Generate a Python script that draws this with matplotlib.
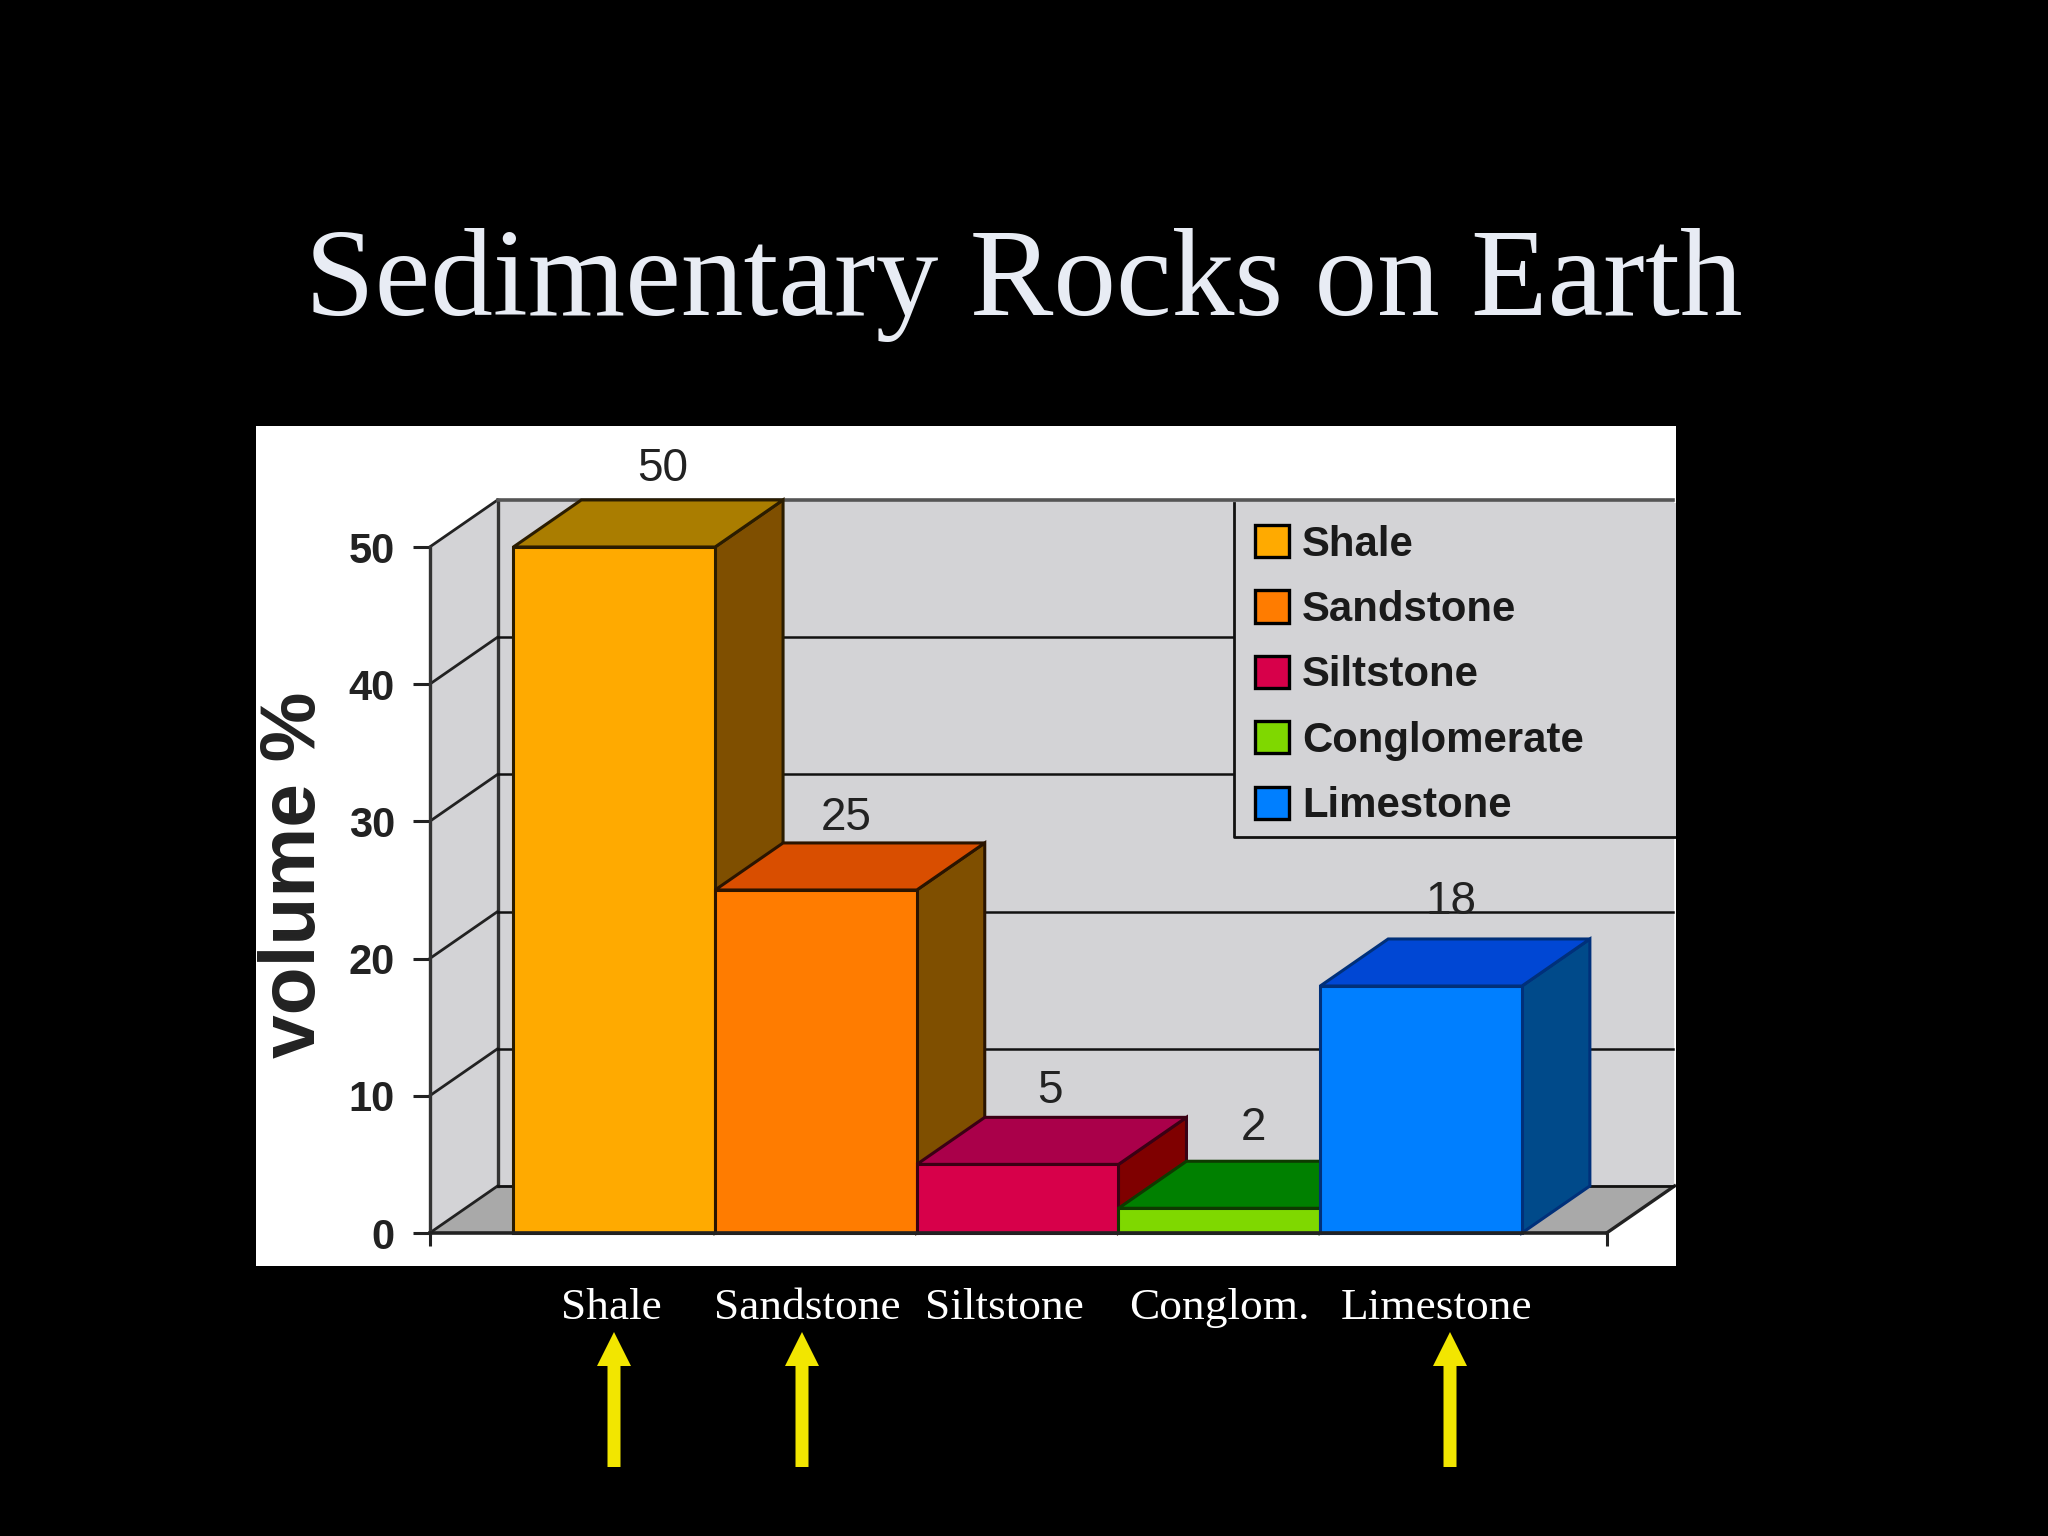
import matplotlib
matplotlib.use("Agg")
import matplotlib.pyplot as plt
from matplotlib.patches import Patch

rocks = ["Shale", "Sandstone", "Siltstone", "Conglomerate", "Limestone"]
volume = [50, 25, 5, 2, 18]
heights = [50, 25, 5, 1.8, 18]
y_ticks = [0, 10, 20, 30, 40, 50]

front_colors = ["#FFAA00", "#FF7C00", "#D7004A", "#7FD800", "#007FFF"]
top_colors = ["#AA7D00", "#D94E00", "#AA004A", "#008000", "#0047D4"]
side_colors = ["#7F4F00", "#7F4F00", "#7F0000", "#005500", "#004A8A"]
edge_colors = ["#2A1C00", "#2A1400", "#3A0014", "#0E3A00", "#00307A"]

short_names = ["Shale", "Sandstone", "Siltstone", "Conglom.", "Limestone"]
short_x = [611, 807, 1004, 1219, 1437]
arrow_x = [614, 802, 1450]

# depth of the fake 3d box, in data units
DX = 0.337
DY = 3.43
AXIS_X = -0.415
FLOOR_END = 5.42
RIGHT = 5.75

W, H = 2048, 1536
fig = plt.figure(figsize=(W / 100, H / 100), dpi=100, facecolor="black")

# slide layer, in pixels
slide = fig.add_axes([0, 0, 1, 1])
slide.set_xlim(0, W)
slide.set_ylim(H, 0)
slide.axis("off")
slide.text(1024, 285, "Sedimentary Rocks on Earth", family="Liberation Serif", fontsize=90.3,
           color="#E8ECF4", ha="center", va="center")
for name, x in zip(short_names, short_x):
    slide.text(x, 1319, name, family="Liberation Serif", fontsize=32.7, color="white",
               ha="center", va="baseline")
for x in arrow_x:
    slide.arrow(x, 1467, 0, -135, width=13, head_width=34, head_length=34,
                length_includes_head=True, color="#F2E600", linewidth=0)

# chart panel
ax = fig.add_axes([256 / W, (H - 1266) / H, 1420 / W, 840 / H], facecolor="white")
ax.set_xlim(-1.276, 5.764)
ax.set_ylim(-2.405, 58.82)

wall = "#D3D3D6"
ax.fill([AXIS_X + DX, RIGHT, RIGHT, AXIS_X + DX], [DY, DY, 50 + DY, 50 + DY], color=wall, zorder=1)
ax.fill([AXIS_X, AXIS_X + DX, AXIS_X + DX, AXIS_X], [0, DY, 50 + DY, 50], color=wall, zorder=1)
ax.fill([AXIS_X, FLOOR_END, FLOOR_END + DX, AXIS_X + DX], [0, 0, DY, DY], color="#A9A9A9", zorder=1)
ax.plot([FLOOR_END, FLOOR_END + DX], [0, DY], color="#222222", lw=2.4, zorder=1.2)
ax.plot([AXIS_X + DX, AXIS_X + DX], [DY, 50 + DY], color="#333333", lw=2.4, zorder=1.2)
ax.plot([AXIS_X + DX, RIGHT], [DY, DY], color="#333333", lw=1.8, zorder=1.2)

for v in y_ticks:
    ax.plot([AXIS_X, AXIS_X + DX], [v, v + DY], color="#222222", lw=2, zorder=1.3)
    c = "#555555" if v == 50 else "#111111"
    lw = 2.6 if v == 50 else 1.8
    ax.plot([AXIS_X + DX, RIGHT], [v + DY, v + DY], color=c, lw=lw, zorder=1.3)

for i, h in enumerate(heights):
    z = 3 + i * 0.1
    ec = edge_colors[i]
    ax.fill([i + 1, i + 1 + DX, i + 1 + DX, i + 1], [0, DY, h + DY, h], facecolor=side_colors[i],
            edgecolor=ec, lw=2.2, zorder=z)
    ax.fill([i, i + 1, i + 1 + DX, i + DX], [h, h, h + DY, h + DY], facecolor=top_colors[i],
            edgecolor=ec, lw=2.2, zorder=z)
    ax.fill([i, i + 1, i + 1, i], [0, 0, h, h], facecolor=front_colors[i],
            edgecolor=ec, lw=2.2, zorder=z)

label_dx = [0.74, 0.65, 0.66, 0.67, 0.65]
label_dy = [5.72, 5.22, 5.32, 5.62, 6.12]
for i, v in enumerate(volume):
    ax.text(i + label_dx[i], v + label_dy[i], str(v), family="Liberation Sans", fontsize=33,
            color="#222222", ha="center", va="center", zorder=6)

for s in ["top", "right"]:
    ax.spines[s].set_visible(False)
ax.spines["left"].set_position(("data", AXIS_X))
ax.spines["left"].set_bounds(0, 50)
ax.spines["left"].set_linewidth(2.4)
ax.spines["left"].set_color("#333333")
ax.spines["bottom"].set_position(("data", 0))
ax.spines["bottom"].set_bounds(AXIS_X, FLOOR_END)
ax.spines["bottom"].set_linewidth(2.6)
ax.spines["bottom"].set_color("#222222")
ax.spines["bottom"].set_zorder(5)

ax.set_yticks(y_ticks)
ax.set_yticklabels([str(v) for v in y_ticks], family="Liberation Sans", fontsize=30,
                   weight="bold", color="#222222")
ax.tick_params(axis="y", length=12, width=2.2, pad=13, color="#222222")
ax.set_xticks([AXIS_X, FLOOR_END])
ax.set_xticklabels(["", ""])
ax.tick_params(axis="x", length=9, width=2.2, color="#222222")

ax.text(-1.084, 26.1, "volume %", family="Liberation Sans", fontsize=56.5, weight="bold",
        color="#222222", rotation=90, ha="center", va="center")

# legend box only has a left and bottom line in the original
LEG_L, LEG_R, LEG_B, LEG_T = 0.689, 1.0, 0.5105, 0.908
ax.fill([LEG_L, LEG_R, LEG_R, LEG_L], [LEG_B, LEG_B, LEG_T, LEG_T], color=wall,
        transform=ax.transAxes, zorder=1.5, linewidth=0)
ax.plot([LEG_L, LEG_L, LEG_R], [LEG_T, LEG_B, LEG_B], color="#111111", lw=2,
        transform=ax.transAxes, zorder=1.6)

handles = [Patch(facecolor=c, edgecolor="black", linewidth=2.4) for c in front_colors]
leg = ax.legend(handles, rocks, loc="upper left", bbox_to_anchor=(LEG_L + 0.0028, LEG_T - 0.0054),
                frameon=False,
                prop={"family": "Liberation Sans", "size": 30.2, "weight": "bold"},
                handlelength=0.81, handleheight=0.81, handletextpad=0.31, labelspacing=0.606,
                borderpad=0.4, borderaxespad=0)
leg.set_zorder(2)
for t in leg.get_texts():
    t.set_color("#1A1A1A")

fig.savefig("out.png", dpi=100, facecolor="black")
